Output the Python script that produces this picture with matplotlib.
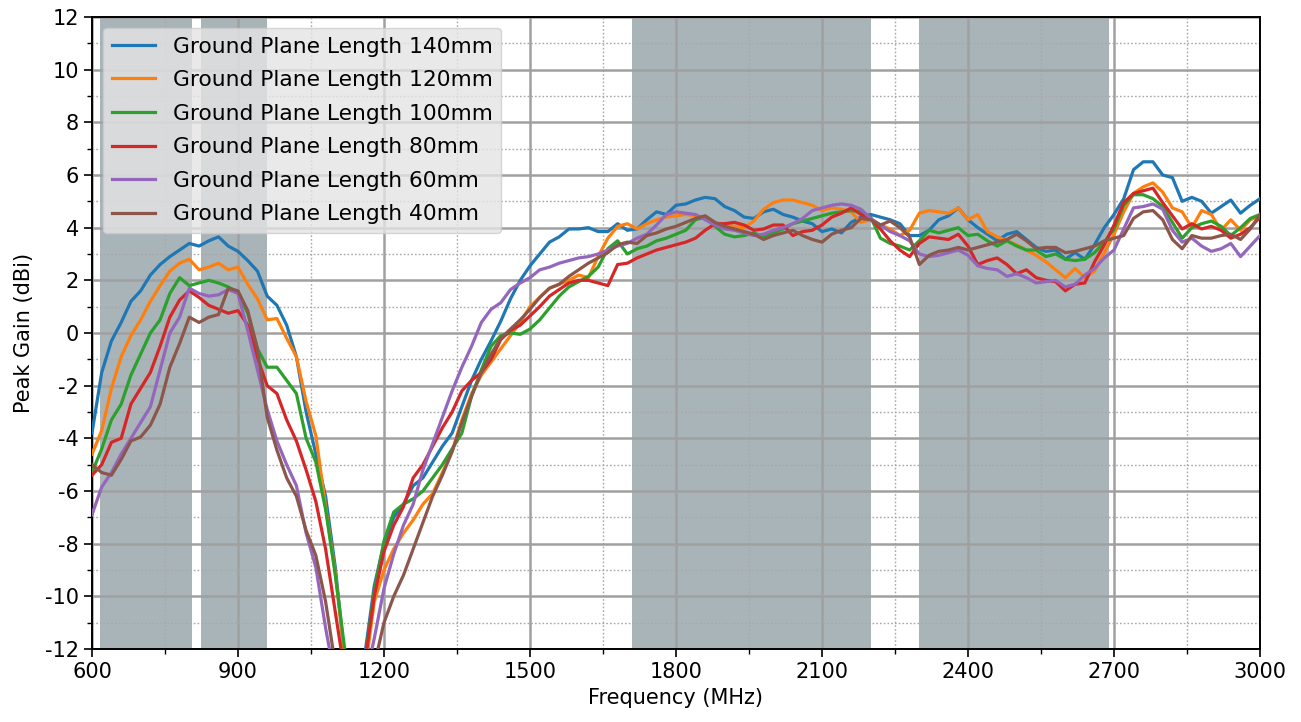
import numpy as np
import matplotlib
matplotlib.use("Agg")
import matplotlib.pyplot as plt
from matplotlib.ticker import MultipleLocator

plt.rcParams["axes.unicode_minus"] = False

# Frequency grid (MHz)
freq = np.arange(600, 3001, 20)

gain_140 = [
    -3.8, -1.5, -0.3, 0.4, 1.2, 1.6, 2.2, 2.6, 2.9, 3.15, 3.4, 3.3, 3.5, 3.65, 3.3, 3.1, 2.75, 2.35, 1.4, 1.05,
    0.3, -0.9, -3.0, -4.6, -6.2, -8.9, -12.5, -14.0, -12.3, -9.6, -8.0, -7.0, -6.5, -5.8, -5.5, -4.9, -4.3, -3.8, -2.8, -1.8,
    -1.0, -0.3, 0.45, 1.3, 2.0, 2.55, 3.0, 3.45, 3.65, 3.95, 3.95, 4.0, 3.85, 3.85, 4.15, 3.9, 3.95, 4.3, 4.6, 4.5,
    4.85, 4.9, 5.05, 5.15, 5.1, 4.8, 4.65, 4.4, 4.35, 4.6, 4.7, 4.5, 4.4, 4.25, 4.15, 3.85, 3.95, 3.8, 4.2, 4.4,
    4.5, 4.4, 4.3, 4.15, 3.7, 3.7, 3.9, 4.3, 4.45, 4.75, 4.3, 4.0, 3.75, 3.5, 3.75, 3.85, 3.55, 3.25, 3.1, 3.15,
    2.8, 3.05, 2.8, 3.35, 4.0, 4.5, 5.1, 6.2, 6.5, 6.5, 6.0, 5.9, 5.0, 5.15, 5.0, 4.55, 4.8, 5.05, 4.55, 4.85,
    5.1,
]
gain_120 = [
    -4.6, -3.7, -2.1, -0.9, -0.1, 0.5, 1.2, 1.8, 2.35, 2.65, 2.8, 2.4, 2.5, 2.65, 2.4, 2.5, 1.85, 1.3, 0.5, 0.55,
    -0.2, -0.9, -2.6, -3.9, -6.6, -9.1, -12.5, -14.0, -13.0, -10.2, -9.0, -8.2, -7.6, -7.1, -6.5, -6.1, -5.3, -4.5, -3.3, -2.3,
    -1.6, -1.1, -0.6, -0.1, 0.4, 1.0, 1.35, 1.7, 1.85, 2.0, 2.2, 2.1, 2.9, 3.6, 4.05, 4.15, 3.95, 4.15, 4.3, 4.4,
    4.45, 4.5, 4.45, 4.4, 4.2, 4.1, 4.05, 4.0, 4.25, 4.7, 4.95, 5.05, 5.05, 4.95, 4.85, 4.65, 4.75, 4.7, 4.6, 4.2,
    4.3, 4.1, 3.95, 3.7, 3.9, 4.55, 4.65, 4.6, 4.55, 4.75, 4.3, 4.5, 3.85, 3.65, 3.5, 3.35, 3.15, 2.95, 2.7, 2.4,
    2.1, 2.45, 2.1, 2.35, 3.05, 3.75, 4.6, 5.3, 5.55, 5.7, 5.35, 4.75, 4.6, 4.0, 4.65, 4.5, 3.9, 4.3, 3.9, 4.3,
    4.45,
]
gain_100 = [
    -5.3, -4.4, -3.3, -2.7, -1.6, -0.8, 0.0, 0.5, 1.5, 2.1, 1.8, 1.9, 2.0, 1.9, 1.75, 1.55, 0.75, -0.6, -1.3, -1.3,
    -1.8, -2.3, -4.0, -4.9, -6.7, -9.2, -12.1, -14.0, -12.6, -9.8, -7.9, -6.8, -6.5, -6.3, -6.0, -5.5, -5.0, -4.4, -3.8, -2.4,
    -1.4, -0.5, -0.1, 0.0, -0.05, 0.15, 0.5, 0.95, 1.4, 1.75, 1.95, 2.15, 2.5, 3.2, 3.5, 3.0, 3.2, 3.3, 3.5, 3.6,
    3.75, 3.9, 4.3, 4.4, 4.05, 3.75, 3.65, 3.7, 3.8, 3.65, 3.8, 3.95, 4.15, 4.25, 4.35, 4.45, 4.55, 4.6, 4.65, 4.6,
    4.4, 3.6, 3.4, 3.3, 3.15, 3.5, 3.9, 3.8, 3.9, 4.0, 3.7, 3.75, 3.5, 3.3, 3.5, 3.3, 3.15, 3.15, 2.9, 3.0,
    2.8, 2.75, 2.8, 3.05, 3.45, 3.95, 4.85, 5.25, 5.25, 5.1, 4.8, 4.2, 3.6, 4.0, 4.15, 4.25, 4.05, 3.7, 4.0, 4.35,
    4.5,
]
gain_80 = [
    -5.4, -5.0, -4.15, -4.0, -2.7, -2.1, -1.5, -0.5, 0.6, 1.25, 1.6, 1.35, 1.05, 0.9, 0.75, 0.85, 0.3, -0.95, -2.0, -2.3,
    -3.3, -4.1, -5.2, -6.4, -8.2, -10.6, -13.0, -14.0, -12.6, -10.0, -8.3, -7.3, -6.6, -5.5, -5.0, -4.3, -3.6, -3.0, -2.2, -1.8,
    -1.5, -1.0, -0.25, 0.1, 0.3, 0.65, 1.0, 1.4, 1.65, 1.9, 2.0, 2.0, 1.9, 1.8, 2.6, 2.65, 2.85, 3.0, 3.15, 3.25,
    3.35, 3.45, 3.6, 3.9, 4.15, 4.15, 4.2, 4.1, 3.9, 3.95, 4.1, 4.1, 3.7, 3.85, 3.9, 4.1, 4.4, 4.55, 4.75, 4.5,
    4.35, 3.95, 3.5, 3.15, 2.9, 3.4, 3.65, 3.6, 3.55, 3.75, 3.3, 2.6, 2.75, 2.85, 2.6, 2.25, 2.4, 2.1, 2.0, 1.95,
    1.6, 1.85, 1.9, 2.7, 3.35, 4.1, 4.95, 5.3, 5.4, 5.5, 4.95, 4.45, 3.95, 4.15, 3.95, 4.05, 3.9, 3.6, 3.75, 4.0,
    4.4,
]
gain_60 = [
    -6.9, -5.85, -5.3, -4.6, -4.0, -3.4, -2.8, -1.4, 0.0, 0.6, 1.7, 1.5, 1.4, 1.45, 1.65, 1.5, 0.1, -1.4, -2.9, -4.1,
    -5.0, -5.8, -7.6, -8.9, -11.2, -13.2, -14.5, -14.5, -13.3, -11.6, -9.7, -8.4, -7.3, -6.5, -5.2, -4.2, -3.2, -2.2, -1.3, -0.5,
    0.4, 0.9, 1.15, 1.65, 1.9, 2.1, 2.4, 2.5, 2.65, 2.75, 2.85, 2.9, 3.0, 3.15, 3.3, 3.4, 3.6, 3.75, 4.1, 4.5,
    4.6, 4.55, 4.5, 4.3, 4.1, 3.95, 3.9, 3.8, 3.7, 3.75, 3.9, 4.0, 4.15, 4.35, 4.65, 4.75, 4.85, 4.9, 4.85, 4.7,
    4.35, 4.1, 3.85, 3.7, 3.5, 3.0, 2.9, 2.95, 3.05, 3.15, 2.95, 2.55, 2.45, 2.4, 2.15, 2.25, 2.1, 1.9, 1.95, 2.0,
    1.75, 1.85, 2.2, 2.45, 2.85, 3.15, 3.95, 4.75, 4.8, 4.9, 4.7, 3.9, 3.45, 3.6, 3.3, 3.1, 3.2, 3.4, 2.9, 3.3,
    3.7,
]
gain_40 = [
    -5.0, -5.3, -5.4, -4.8, -4.1, -3.95, -3.5, -2.7, -1.3, -0.4, 0.6, 0.4, 0.6, 0.7, 1.7, 1.6, 0.85, -0.6, -3.2, -4.45,
    -5.5, -6.2, -7.5, -8.45, -10.2, -12.6, -14.5, -14.5, -14.0, -12.6, -11.0, -10.0, -9.2, -8.2, -7.2, -6.2, -5.4, -4.5, -3.4, -2.4,
    -1.5, -0.8, -0.2, 0.15, 0.5, 0.9, 1.35, 1.7, 1.85, 2.15, 2.4, 2.65, 2.85, 3.05, 3.35, 3.45, 3.4, 3.7, 3.8, 3.95,
    4.05, 4.2, 4.35, 4.45, 4.2, 4.05, 3.95, 3.85, 3.75, 3.55, 3.7, 3.8, 3.9, 3.7, 3.55, 3.45, 3.75, 3.9, 4.0, 4.35,
    4.3, 4.1, 4.25, 4.0, 3.65, 2.6, 2.95, 3.1, 3.15, 3.25, 3.15, 3.25, 3.35, 3.45, 3.55, 3.75, 3.5, 3.2, 3.25, 3.25,
    3.05, 3.1, 3.2, 3.3, 3.5, 3.6, 3.7, 4.35, 4.6, 4.65, 4.3, 3.55, 3.2, 3.7, 3.6, 3.6, 3.7, 3.75, 3.55, 3.95,
    4.5,
]

series = [
    ("Ground Plane Length 140mm", gain_140, "#1f77b4"),
    ("Ground Plane Length 120mm", gain_120, "#ff7f0e"),
    ("Ground Plane Length 100mm", gain_100, "#2ca02c"),
    ("Ground Plane Length 80mm", gain_80, "#d62728"),
    ("Ground Plane Length 60mm", gain_60, "#9467bd"),
    ("Ground Plane Length 40mm", gain_40, "#8c564b"),
]

# Operating bands (MHz)
bands = [(617, 806), (824, 960), (1710, 2200), (2300, 2690)]

fig = plt.figure(figsize=(13.01, 7.22), dpi=100)
ax = fig.add_axes([0.0707, 0.1011, 0.8978, 0.8754])

for lo, hi in bands:
    ax.axvspan(lo, hi, color="#a9b4b9", zorder=0.2, lw=0)

for label, vals, col in series:
    ax.plot(freq, vals, color=col, lw=2.3, label=label, zorder=3)

ax.set_xlim(600, 3000)
ax.set_ylim(-12, 12)
ax.xaxis.set_major_locator(MultipleLocator(300))
ax.xaxis.set_minor_locator(MultipleLocator(150))
ax.yaxis.set_major_locator(MultipleLocator(2))
ax.yaxis.set_minor_locator(MultipleLocator(1))

ax.grid(which="major", color="#a0a0a0", lw=1.8, zorder=1)
ax.grid(which="minor", color="#a8a8a8", lw=1.0, ls=(0, (1.2, 1.5)), zorder=1)

ax.tick_params(which="major", labelsize=15, length=6, width=1.2)
ax.tick_params(which="minor", length=3.5, width=1.0)
for s in ax.spines.values():
    s.set_linewidth(1.4)

ax.set_xlabel("Frequency (MHz)", fontsize=15, labelpad=4)
ax.set_ylabel("Peak Gain (dBi)", fontsize=15, labelpad=8)

leg = ax.legend(loc="upper left", fontsize=15.7, frameon=True, fancybox=True,
                facecolor="#e4e4e4", edgecolor="#cccccc", framealpha=0.8,
                borderaxespad=0.5, handlelength=2.0, labelspacing=0.62)

fig.savefig("out.png", dpi=100)
